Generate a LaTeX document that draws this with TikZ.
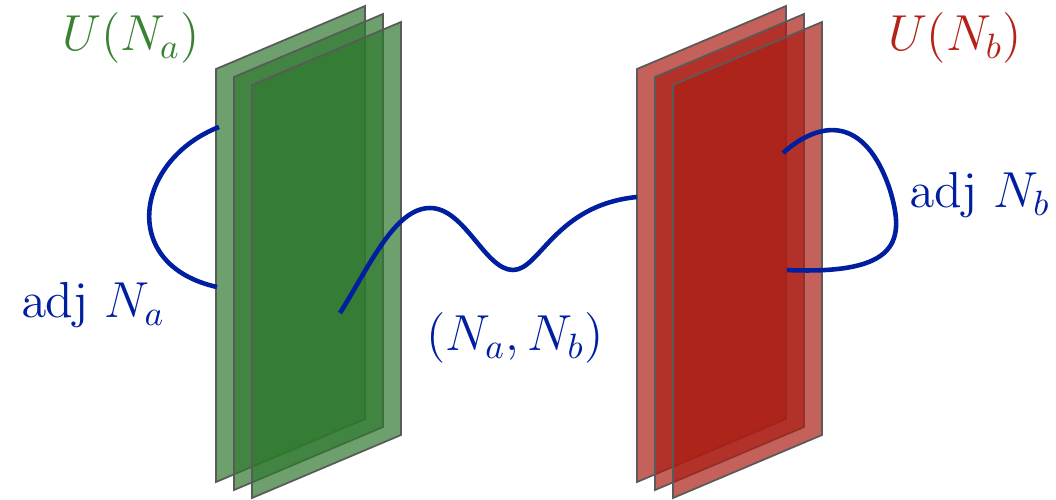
\documentclass[tikz,border=0pt]{standalone}
\usepackage{tikz}

\definecolor{planegreen}{RGB}{47,120,47}
\definecolor{planered}{RGB}{170,30,20}
\definecolor{edgegray}{RGB}{90,90,90}
\definecolor{linkblue}{RGB}{0,30,160}
\definecolor{txtgreen}{RGB}{56,130,50}
\definecolor{txtred}{RGB}{180,35,25}

\begin{document}
\begin{tikzpicture}[
  plane/.style={draw=edgegray,line width=0.5pt,fill opacity=0.7},
  link/.style={draw=linkblue,line width=1.3pt},
  lbl/.style={font=\fontsize{14.3}{17}\selectfont,inner sep=0pt}]
\useasboundingbox (0,0) rectangle (10.56,4.99);

% 左侧 U(N_a) 三层
\path[plane,fill=planegreen] (2.16,0.17)--(2.16,4.30)--(3.65,4.93)--(3.65,0.80)--cycle;
\path[plane,fill=planegreen] (2.34,0.09)--(2.34,4.22)--(3.83,4.85)--(3.83,0.72)--cycle;
\path[plane,fill=planegreen] (2.52,0.01)--(2.52,4.14)--(4.01,4.77)--(4.01,0.64)--cycle;

% 右侧 U(N_b) 三层
\path[plane,fill=planered] (6.37,0.17)--(6.37,4.30)--(7.86,4.93)--(7.86,0.80)--cycle;
\path[plane,fill=planered] (6.55,0.09)--(6.55,4.22)--(8.04,4.85)--(8.04,0.72)--cycle;
\path[plane,fill=planered] (6.73,0.01)--(6.73,4.14)--(8.22,4.77)--(8.22,0.64)--cycle;

% 标签
\node[lbl,text=txtgreen] (ua) at (1.31,4.61) {$U(N_a)$};
\node[lbl,text=txtred] (ub) at (9.55,4.61) {$U(N_b)$};
\node[lbl,text=linkblue] (adja) at (0.93,1.94) {$\mathrm{adj}\ N_a$};
\node[lbl,text=linkblue] (adjb) at (9.80,3.04) {$\mathrm{adj}\ N_b$};
\node[lbl,text=linkblue] (pair) at (5.15,1.61) {$(N_a,N_b)$};

% 端点
\coordinate (la1) at (2.19,3.72);
\coordinate (la2) at (2.17,2.12);
\coordinate (ma) at (3.40,1.86);
\coordinate (mtop) at (4.30,2.91);
\coordinate (mlow) at (5.13,2.29);
\coordinate (mb) at (6.37,3.02);
\coordinate (rb1) at (7.83,3.46);
\coordinate (rbx) at (8.90,3.09);
\coordinate (rb2) at (7.87,2.29);

% ========== 连线 ==========
\draw[link] (la1) .. controls (1.35,3.39) and (1.18,2.34) .. (la2);
\draw[link] (ma) .. controls (3.70,2.34) and (3.95,2.91) .. (mtop)
  .. controls (4.65,2.91) and (4.85,2.29) .. (mlow)
  .. controls (5.40,2.29) and (5.55,2.94) .. (mb);
\draw[link] (rb1) .. controls (8.20,3.79) and (8.65,3.84) .. (rbx)
  .. controls (9.05,2.59) and (9.00,2.24) .. (rb2);
\end{tikzpicture}
\end{document}
